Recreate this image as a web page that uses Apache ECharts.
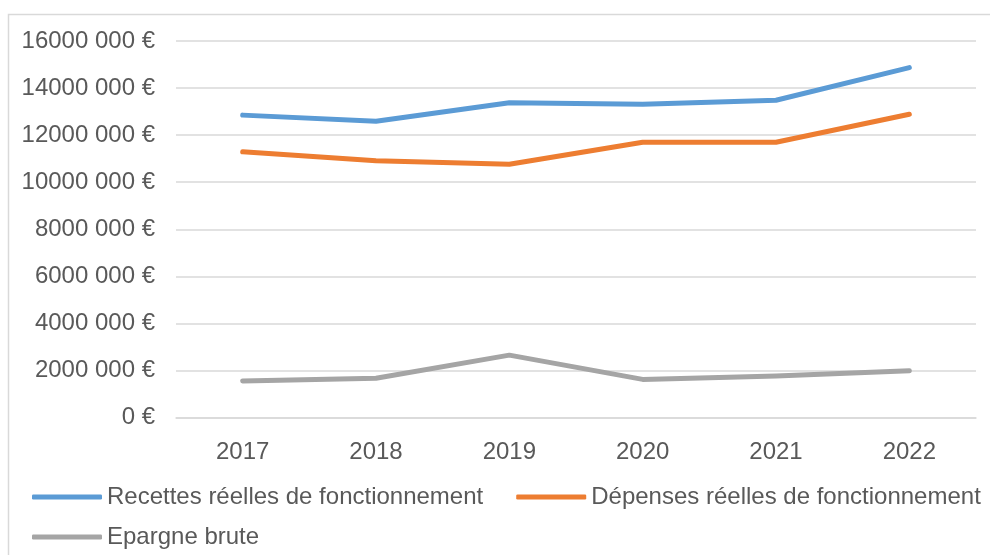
<!DOCTYPE html>
<html>
<head>
<meta charset="utf-8">
<script src="https://cdn.jsdelivr.net/npm/echarts@6/dist/echarts.min.js"></script>
<style>
  html, body { margin: 0; padding: 0; background: #fff; }
  #chart { width: 990px; height: 555px; }
</style>
</head>
<body>
<div id="chart"></div>
<script>
const years = ['2017', '2018', '2019', '2020', '2021', '2022']
const recettes = [12850000, 12590000, 13380000, 13310000, 13480000, 14870000]
const depenses = [11290000, 10910000, 10760000, 11700000, 11700000, 12890000]
const epargne = [1550000, 1670000, 2650000, 1620000, 1760000, 1990000]

const textColor = '#595959'
const font = 'Liberation Sans, Arial, sans-serif'

// 16000000 -> "16000 000 €"
const euro = (v) => {
  if (v === 0) return '0 €'
  return Math.floor(v / 1000) + ' ' + String(v % 1000).padStart(3, '0') + ' €'
}

const lineSeries = (name, data, color) => ({
  name,
  type: 'line',
  data,
  symbol: 'none',
  smooth: false,
  lineStyle: { color, width: 5, cap: 'round', join: 'round' },
  itemStyle: { color },
})

const legendText = { color: textColor, fontSize: 24, fontFamily: font }

const chart = echarts.init(document.getElementById('chart'))
chart.setOption({
  animation: false,
  backgroundColor: '#fff',
  graphic: [{
    type: 'rect',
    shape: { x: 8.5, y: 14.5, width: 1000, height: 600 },
    style: { fill: 'none', stroke: '#d9d9d9', lineWidth: 1.5 },
    silent: true,
    z: -1,
  }],
  grid: { left: 176, right: 14, top: 41, bottom: 137.5 },
  xAxis: {
    type: 'category',
    data: years,
    boundaryGap: true,
    axisLine: { show: true, lineStyle: { color: '#d9d9d9', width: 1.5 } },
    axisTick: { show: false },
    axisLabel: { color: textColor, fontSize: 24, fontFamily: font, margin: 23 },
  },
  yAxis: {
    type: 'value',
    min: 0,
    max: 16000000,
    interval: 2000000,
    axisLine: { show: false },
    axisTick: { show: false },
    splitLine: { lineStyle: { color: '#d9d9d9', width: 1.5 } },
    axisLabel: {
      color: textColor, fontSize: 24, fontFamily: font, margin: 21,
      padding: [9, 0, 0, 0], formatter: euro,
    },
  },
  legend: [
    {
      data: ['Recettes réelles de fonctionnement', 'Dépenses réelles de fonctionnement'],
      left: 32,
      top: 485,
      padding: 0,
      itemGap: 33,
      itemWidth: 70,
      itemHeight: 5,
      icon: 'roundRect',
      textStyle: legendText,
    },
    {
      data: ['Epargne brute'],
      left: 32,
      top: 525,
      padding: 0,
      itemWidth: 70,
      itemHeight: 5,
      icon: 'roundRect',
      textStyle: legendText,
    },
  ],
  series: [
    lineSeries('Recettes réelles de fonctionnement', recettes, '#5B9BD5'),
    lineSeries('Dépenses réelles de fonctionnement', depenses, '#ED7D31'),
    lineSeries('Epargne brute', epargne, '#A5A5A5'),
  ],
})
</script>
</body>
</html>
